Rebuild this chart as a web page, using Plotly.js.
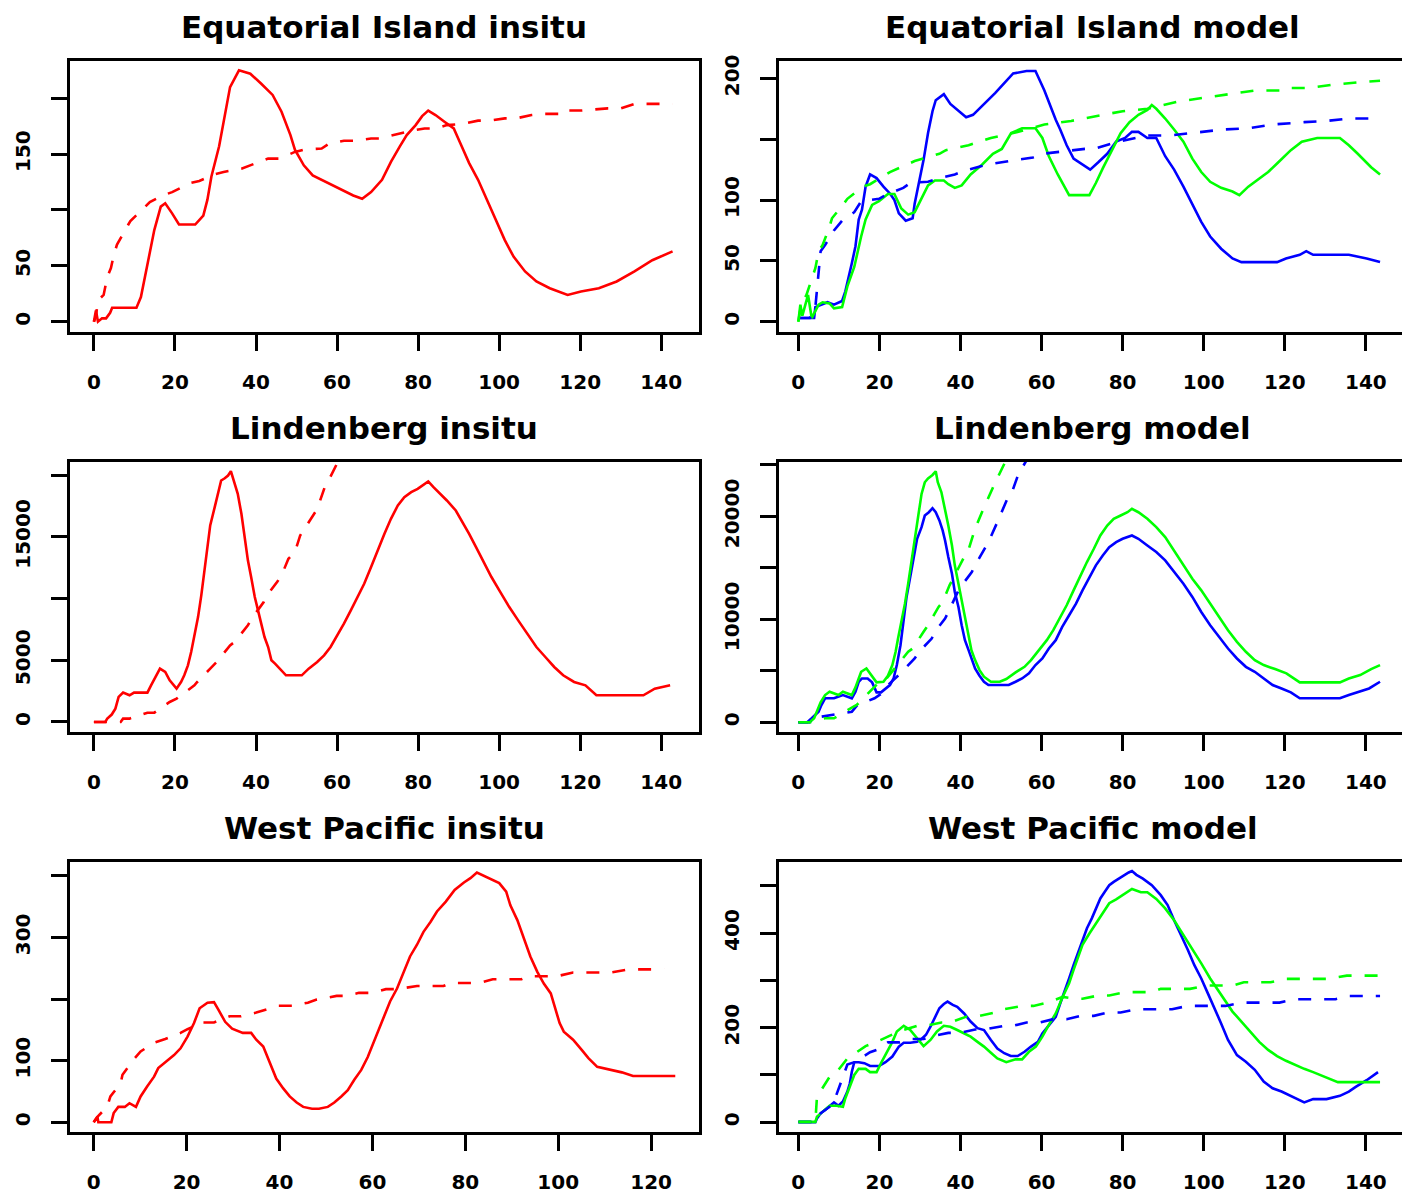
<!DOCTYPE html>
<html>
<head>
<meta charset="utf-8">
<script src="https://cdn.plot.ly/plotly-3.0.1.min.js"></script>
<style>
html,body{margin:0;padding:0;overflow:hidden;background:#fff;}
#plot{width:1410px;height:1197px;}
</style>
</head>
<body>
<div id="plot"></div>
<script>
// ---------------- DATA ----------------
const panelTitles = ["Equatorial Island insitu", "Equatorial Island model",
  "Lindenberg insitu", "Lindenberg model", "West Pacific insitu", "West Pacific model"];

const xTicksLong = [0, 20, 40, 60, 80, 100, 120, 140];
const xTicksShort = [0, 20, 40, 60, 80, 100, 120];

const yTicks1 = [0, 50, 100, 150, 200];          const yLabels1 = ["0", "50", "", "150", ""];
const yTicks2 = [0, 50, 100, 150, 200];          const yLabels2 = ["0", "50", "100", "", "200"];
const yTicks3 = [0, 5000, 10000, 15000, 20000];  const yLabels3 = ["0", "5000", "", "15000", ""];
const yTicks4 = [0, 5000, 10000, 15000, 20000, 25000]; const yLabels4 = ["0", "", "10000", "", "20000", ""];
const yTicks5 = [0, 100, 200, 300, 400];         const yLabels5 = ["0", "100", "", "300", ""];
const yTicks6 = [0, 100, 200, 300, 400, 500];    const yLabels6 = ["0", "", "200", "", "400", ""];

// Panel 1: Equatorial Island insitu
const eiInsituSolidX = [0,0.5,1,2,3,4,4.5,10.5,11.6,13.2,14.9,16.5,17.6,19.3,21,25,27,28,29,30.9,32,33.6,35.8,38.6,41.3,44.1,46.3,48.5,49.6,51.8,54,57.3,60.6,64,66.2,68.4,71.1,73.3,75.5,77.2,79.4,81,82.5,84.3,86.5,88.8,90.4,92.6,94.8,97,99.2,101.4,103.6,106.4,109.2,112.5,116.9,120.2,124.6,129,133.4,137.8,142.8];
const eiInsituSolidY = [0,10,0,3,3,8,12.5,12.5,22,51,82,103,106,97,87,87,95,109,130,157,180,210,225,222,213,203,188,167,154,140,131,125,119,113,110,116,127,143,157,167,176,184,189,185,179,173,160,142,127,109,91,73,58,45,36,30,24,27,30,36,45,55,63];
const eiInsituDashX = [0,0.5,1,2.4,3.3,4.2,5,5.7,8.5,9,12.1,13.8,17,19.3,23.7,26,29.8,32,36.4,38.6,43,45.8,49.6,51.8,56.2,57.9,61.7,65,68.4,70.6,75,78.3,81.6,84.3,87.1,91,94.8,97.6,101.4,104.2,108,110.3,114.7,115.2,120.2,126.8,130,133.4,142.8];
const eiInsituDashY = [0,5,19,24,40,48,61,69,87,90,101,107,113,116,124,126,132,134,137,140,146,146,152,154,155,159,162,162,164,164,168,171,173,173,176,177,180,180,182,182,185,186,186,189,189,191,191,195,195];

// Panel 2: Equatorial Island model
const eiModelBlueX = [0,3.9,4.2,7.2,8.8,10.8,11.6,12.5,13.2,14.1,14.9,15.7,16.6,17.7,19.3,21,22.7,23.7,24.8,26.5,28.2,28.7,29.8,30.9,32,33.1,33.9,35.9,37.5,39.2,41.4,43.1,44.7,46.4,48.6,50.8,53,56.3,58.5,60.7,62.4,63.5,64.6,66.2,67.9,70.1,72,74,76.2,78.4,80.6,82.3,83.9,86.1,88.3,90.5,92.7,95,97.2,99.4,101.6,104.3,107.1,109.3,118.1,120.3,123.7,125.3,127,135.8,140.2,143.5];
const eiModelBlueY = [3,3,12,16,14,17,25,37,48,62,84,92,111,121,118,111,105,100,89,83,85,97,114,133,155,173,182,187,179,174,168,170,175,181,188,196,204,206,206,190,175,166,158,145,134,129,125,131,138,148,151,156,156,151,151,136,125,111,97,82,70,60,52,49,49,52,55,58,55,55,52,49];
const eiModelGreenX = [0,0.5,1,2.4,3.3,5,6,7.7,8.8,10.8,12.1,13.8,15.5,16.6,18.2,19.9,22.1,23.7,25.4,27.1,28.7,30.4,32,33.7,35.9,37,38.6,40.3,42.5,45.3,48,50.2,52.5,55.2,58.5,60.2,61.8,64,65.7,66.8,71.8,73.4,75.1,77.3,79.5,81.7,83.9,86.1,87.2,88.3,90.5,92.7,95,97.2,99.4,101.6,104.3,107.1,108.8,111,113.7,115.9,118.1,121.5,124.2,128,133.6,135.8,138,141.3,143.5];
const eiModelGreenY = [0,14,5,22,3,14,16,15,11,12,29,45,70,84,96,99,105,105,93,88,90,101,112,116,116,113,110,112,121,129,138,142,155,159,159,151,136,121,111,104,104,114,126,141,155,164,170,174,178,175,167,158,148,134,123,115,110,107,104,111,118,123,130,141,148,151,151,145,138,127,121];
const eiModelGreenDashX = [0,0.7,2,3.3,4.2,5,6,7.7,8.3,11,12.1,16,17.7,22.6,28.7,34.8,36.4,42,47.5,53,60.7,67.3,75,80,86.1,91.6,93.8,99.9,106.5,112.6,119.2,120.3,125.8,132.5,139.1,143.5];
const eiModelGreenDashY = [0,14,22,36,44,58,63,78,85,96,101,111,113,123,132,138,141,145,151,155,162,165,170,173,175,179,181,184,187,190,190,192,192,195,197,198];
const eiModelBlueDashX = [0,2.8,4.2,5.5,6.6,8.8,10.8,13.8,15.5,19.9,22.1,25.9,27.6,32,34.8,38.6,40.9,46.4,51.9,57.9,60.2,66.2,70.7,72.9,78.9,83.3,86.1,91.6,98.8,104.9,111,116.8,124.8,130.3,135.8,143.5];
const eiModelBlueDashY = [3,3,12,58,63,75,83,90,99,101,105,110,114,115,118,121,124,129,132,135,138,140,142,142,148,151,153,153,156,158,159,162,164,165,167,167];

// Panel 3: Lindenberg insitu
const linInsituSolidX = [0,2.8,3.3,4.4,5.3,6.1,7.2,8.8,9.9,13.2,14.1,14.9,16.3,17.6,18.7,20.4,21.5,22.3,23.2,24,24.8,25.7,26.5,27.2,27.9,28.7,29.8,30.7,31.4,32.3,33.1,33.8,34.7,35.5,36.4,37.3,38,38.8,39.7,40.5,41.3,42.1,43,43.8,44.7,45.8,47.4,51.3,53,55.1,56.8,58.4,60.1,61.7,63.4,65.1,66.7,68.4,70,71.7,73.3,75,76.6,78.3,79.9,81,82.5,83.8,85.5,87.1,89.3,91,92.6,94.3,95.9,98.1,100.3,102.5,104.7,106.9,109.2,111.4,113.6,115.8,118.5,121.3,124,135.6,138.4,142.2];
const linInsituSolidY = [0,0,270,600,1080,2030,2380,2160,2380,2380,2970,3510,4320,4050,3375,2700,3240,3780,4590,5670,7020,8500,10260,12150,14175,15930,17400,18630,19575,19760,19980,20330,19440,18500,16875,14700,13100,11750,10125,9045,7830,6885,6075,4995,4725,4320,3780,3780,4320,4860,5400,6075,7020,7965,9045,10125,11200,12555,13900,15255,16470,17550,18225,18630,18900,19170,19500,19035,18500,17955,17145,16200,15255,14175,13100,11750,10530,9315,8235,7155,6075,5265,4455,3780,3240,2970,2160,2160,2700,2970];
const linInsituDashX = [0,6.6,7.2,8.8,13.2,14.9,18.7,20.4,24.8,25.5,28.7,30.3,33.6,34.7,38,38.9,41.9,42.4,45.2,46.3,48,49.6,50.9,52,54.6,55.4,57.1,57.9,60.1,61];
const linInsituDashY = [0,0,270,270,750,750,1620,1890,2970,3240,4320,4860,6210,6480,7830,8370,9720,10125,11340,11880,13230,13770,15120,15660,17000,17550,19170,19575,21060,21600];

// Panel 4: Lindenberg model
const linModelGreenX = [0,2.8,3.9,5.5,6.6,7.7,9.9,11,13.2,14.1,14.9,15.5,16.8,18,19.3,21,22.1,23.2,24,24.6,25.4,26.3,27.1,27.9,28.7,29.6,30.4,31.2,32,33.1,33.9,34.4,35.3,36.2,37,37.9,38.6,39.5,40.3,41.1,42,42.7,43.6,44.7,45.8,47.5,49.7,51.3,53.6,55.8,57.4,59.6,61.3,62.9,64.6,66.2,67.9,69.6,71.2,72.9,74.5,76.2,77.8,79.5,81.2,82.3,83.9,86.1,88.3,90.5,92.7,95,97.2,99.4,101.6,103.8,106,108.2,110.4,112.6,114.8,117.6,120.4,123.7,133.6,135.8,138.6,141.3,143.5];
const linModelGreenY = [0,0,390,1940,2650,2970,2650,2970,2650,3390,4260,4910,5230,4590,3880,3940,4520,5560,6850,8140,9590,11530,13470,15730,18000,20090,22190,23320,23700,24030,24390,23320,22350,20740,19120,17180,15250,13470,11850,9920,8300,7010,6040,5070,4430,3940,3940,4200,4850,5390,6040,7170,7980,8950,10240,11370,12820,14280,15570,16860,18150,19120,19770,20090,20410,20740,20410,19770,18960,18000,16700,15250,13950,12820,11530,10240,8950,7820,6850,6040,5560,5170,4750,3880,3880,4260,4590,5170,5560];
const linModelBlueX = [0,2.2,3.3,5,5.7,6.6,7.7,8.8,11,13.2,14.1,14.9,15.7,17.1,18.2,19.3,20.4,21.5,22.6,23.5,24.3,25.2,25.9,26.7,27.6,28.5,29.3,30.4,31.2,32.2,33.1,33.9,34.8,35.6,36.2,37,37.9,38.6,39.5,40.3,41.1,42,42.8,43.6,44.7,45.8,46.9,51.9,53.6,55.2,56.9,58.5,60.2,61.8,63.5,65.1,66.8,68.5,70.1,71.8,73.4,75.1,76.7,78.4,80,82.3,83.9,86.1,88.3,90.5,92.7,95,97.2,99.4,101.6,103.8,106,108.2,110.4,112.6,114.8,117,119.2,121.5,123.7,133.6,135.8,138.6,140.8,143.5];
const linModelBlueY = [0,0,390,1030,1680,2330,2330,2330,2650,2330,2970,3940,4260,4260,3880,2910,2910,3290,3620,4260,5560,7490,9750,12180,14120,16210,17830,18960,20090,20410,20800,20410,19610,18640,17670,16050,14440,12660,11210,9430,7980,7010,6040,5230,4520,3940,3620,3620,3940,4260,4750,5560,6200,7170,7980,9270,10400,11530,12820,14120,15250,16210,17020,17510,17830,18150,17830,17180,16540,15730,14600,13470,12180,10720,9430,8300,7170,6200,5390,4910,4260,3620,3290,2910,2330,2330,2650,2970,3290,3940];
const linModelGreenDashX = [0,2.8,6.6,8.8,13.2,14.4,19.9,21,27.1,28.2,30.9,32,34.6,35.6,37.3,38.1,40.9,41.6,43.1,43.6,45.3,46,48.4,51,52];
const linModelGreenDashY = [0,0,390,390,1420,1680,3880,3880,6850,7170,8790,9430,11210,11690,13310,13950,16050,16280,18150,18800,20410,21060,23160,25260,25800];
const linModelBlueDashX = [0,2.8,3.3,13.2,14.6,18.8,21.2,22.1,24.8,28.7,29.8,32.9,33.7,36.2,37,39.7,42.8,43.6,46.4,46.9,49.1,51.9,52.7,54.3,55.2,56.5];
const linModelBlueDashY = [0,0,390,1030,1680,2330,2970,3620,4590,6200,6850,8140,8790,10080,10720,12980,14600,15250,17180,17510,19450,22030,22350,24130,24710,25600];

// Panel 5: West Pacific insitu
const wpInsituSolidX = [0,0.8,1,3.8,4.3,5.3,6.7,7.7,9.1,10.1,11.5,13,13.9,15.4,17.3,18.7,20.2,21.6,22.8,24.5,25.9,26.9,28.3,29.8,32.1,33.9,35,36.5,37.4,38.4,39.3,40.8,42.2,43.7,45.1,47,48.5,50.4,51.8,53.3,54.7,56.1,57.6,59,60.5,61.9,62.9,63.8,65.3,66.2,67.2,68.1,69.6,71,72.5,73.9,75.8,77.7,79.7,81.1,82.5,84,85.4,87.3,88.8,89.7,91.2,92.6,94,95.5,96.9,98.4,99.3,100.3,101.2,103.2,105.1,106.5,108.4,110.8,113.7,116.1,125.2];
const wpInsituSolidY = [0,9,0,0,15,25,25,31,25,42,58,74,88,97,109,120,139,161,185,194,195,182,163,152,145,145,134,123,106,90,71,55,42,32,25,22,22,25,32,42,52,69,85,106,134,161,179,196,217,234,252,269,288,309,325,342,358,377,389,396,405,400,394,388,374,352,328,298,269,244,225,209,185,161,147,134,117,104,90,86,81,75,75];
const wpInsituDashX = [0,0.8,2.9,3.6,5.8,6.2,8.6,10.1,13,15.4,18.7,20.2,23.5,25.9,29.3,31.7,35,37.4,39.8,42.7,46.1,48,52.3,54.2,57.1,60,62.9,65.3,69.6,75.3,76.8,83,85.9,92.1,93.6,99.8,103.2,111.3,115.2,122.8];
const wpInsituDashY = [0,9,25,42,63,77,102,115,129,135,145,151,162,162,172,172,178,183,189,189,194,199,205,205,210,210,216,216,221,221,226,226,232,232,237,237,243,243,248,248];

// Panel 6: West Pacific model
const wpModelBlueX = [0,4.2,4.6,5.5,6.6,7.7,8.8,9.9,11,12.1,12.7,13.2,13.8,14.9,16.3,17.7,19.9,21.5,23.2,24.8,26,27.6,29.3,30.4,31.5,32.6,33.7,34.8,35.9,36.8,38.1,39.2,40.9,42.5,44.2,45.8,47.5,49.1,50.8,52.4,54.1,55.8,57.4,59.1,60.2,61.8,63.5,64.6,65.7,66.8,67.9,69,70.1,71.2,72.4,73.4,74.5,75.6,76.7,77.8,79,80.6,81.5,82.3,83.4,85,87.2,89.4,91.1,92.7,94.4,96.1,97.7,99.4,101,102.7,104.3,106,108.2,110.4,112.6,114.8,117,119.2,121.5,124.8,127,130.3,133.6,135.8,137.5,140.2,143];
const wpModelBlueY = [0,0,8,19,26,35,42,35,44,65,82,107,127,127,125,119,119,127,139,160,168,168,170,176,185,202,220,241,250,255,248,244,230,213,199,195,174,156,146,140,140,149,160,170,188,206,223,251,280,304,332,357,382,410,431,452,473,487,501,508,515,523,528,531,523,515,501,480,459,427,396,364,332,304,273,241,209,174,142,128,111,86,72,65,56,42,49,49,56,65,75,89,106];
const wpModelGreenX = [0,4.2,4.6,6.1,7.7,9.4,11,11.6,12.7,13.8,14.9,16.6,17.7,19.3,20.4,22.1,23.2,24.3,26,27.6,29.3,30.9,32.6,34.2,35.9,37.5,39.2,40.9,42.5,44.2,45.8,47.5,49.1,51.3,53.6,55.2,56.9,58.6,60.2,61.8,63.5,65.2,66.8,67.9,69,70.1,71.8,73.4,75.1,76.7,78.4,80,82.3,84.5,86.1,88.3,90.5,92.7,95,97.2,99.4,101.6,103.8,105.5,107.1,109.3,111.5,113.7,115.9,118.1,120.3,122.6,124.8,127,129.2,131.4,133.1,143.5];
const wpModelGreenY = [1,1,12,23,35,35,33,51,75,100,113,113,106,106,125,153,170,192,204,195,177,161,174,192,204,202,195,188,181,170,160,147,135,127,133,133,149,160,181,206,230,265,294,322,350,375,399,420,442,463,471,480,493,486,486,472,452,427,396,368,336,304,276,255,234,213,192,170,153,140,130,121,113,106,99,92,85,85];
const wpModelGreenDashX = [0,4.2,4.6,7.7,8.8,12.1,13.2,16.6,18.8,23.2,24.8,29.3,31.5,35.3,37.5,42,44.7,48.6,50.8,55.2,58,61.8,65.2,68.5,70.1,74,76.7,80.6,83.4,87.2,89.4,94,96.6,100.5,103.2,107.1,109.9,113.2,116.5,120.3,123.2,127,130.3,135.3,139.7,143.5];
const wpModelGreenDashY = [1,1,54,96,99,135,141,161,168,185,192,204,204,211,211,225,225,232,239,246,246,254,265,261,261,268,268,275,275,275,282,282,282,289,289,289,296,296,296,303,303,303,303,310,310,310];
const wpModelBlueDashX = [0,4.2,5.5,6.6,7.7,8.8,12.1,13.8,17.7,19.9,22.1,25,28.2,30.9,33.1,37,39.7,43.6,45.8,50.8,53,56.3,59.6,62.9,66.2,69.6,72.9,76.2,79.5,83.4,86.1,89.4,92.2,96.1,98.8,102.7,105.4,109.3,112.6,115.9,118.7,122.6,125.9,129.2,132.5,135.8,143.5];
const wpModelBlueDashY = [1,1,19,26,33,44,122,127,148,155,169,169,176,176,182,189,189,196,196,204,204,211,211,218,218,225,225,232,232,239,239,239,239,246,246,246,246,253,253,253,253,260,260,260,260,267,267];

// ---------------- STYLE / LAYOUT ----------------
const W = 1410, H = 1197;
const RED = "#ff0000", BLUE = "#0000ff", GREEN = "#00ff00";
const LW = 2.6;
const DASH = "13px,13px";
const FONT = "DejaVu Sans, Liberation Sans, sans-serif";

const colPx = [[70, 698.5], [778.7, 1407.2]];
const rowPx = [[61.3, 331.7], [461.7, 732.3], [861.7, 1132.3]];
const xRanges = [[-5.9, 149.2], [-4.84, 150.2], [-5.9, 149.2], [-4.84, 150.2], [-5.1, 130.2], [-4.84, 150.2]];
const yRanges = [[-8.95, 233.1], [-8.2, 214], [-840, 21100], [-972, 25320], [-16.2, 422.7], [-21.1, 550.7]];
const xTickSets = [xTicksLong, xTicksLong, xTicksLong, xTicksLong, xTicksShort, xTicksLong];
const yTickSets = [yTicks1, yTicks2, yTicks3, yTicks4, yTicks5, yTicks6];
const yLabelSets = [yLabels1, yLabels2, yLabels3, yLabels4, yLabels5, yLabels6];

const series = [
  [0, eiInsituSolidX, eiInsituSolidY, RED, "solid"],
  [0, eiInsituDashX, eiInsituDashY, RED, DASH],
  [1, eiModelBlueX, eiModelBlueY, BLUE, "solid"],
  [1, eiModelGreenX, eiModelGreenY, GREEN, "solid"],
  [1, eiModelBlueDashX, eiModelBlueDashY, BLUE, DASH],
  [1, eiModelGreenDashX, eiModelGreenDashY, GREEN, DASH],
  [2, linInsituSolidX, linInsituSolidY, RED, "solid"],
  [2, linInsituDashX, linInsituDashY, RED, DASH],
  [3, linModelBlueX, linModelBlueY, BLUE, "solid"],
  [3, linModelGreenX, linModelGreenY, GREEN, "solid"],
  [3, linModelBlueDashX, linModelBlueDashY, BLUE, DASH],
  [3, linModelGreenDashX, linModelGreenDashY, GREEN, DASH],
  [4, wpInsituSolidX, wpInsituSolidY, RED, "solid"],
  [4, wpInsituDashX, wpInsituDashY, RED, DASH],
  [5, wpModelBlueX, wpModelBlueY, BLUE, "solid"],
  [5, wpModelGreenX, wpModelGreenY, GREEN, "solid"],
  [5, wpModelBlueDashX, wpModelBlueDashY, BLUE, DASH],
  [5, wpModelGreenDashX, wpModelGreenDashY, GREEN, DASH]
];

const traces = series.map(([p, x, y, c, d]) => ({
  type: "scatter", mode: "lines", x: x, y: y,
  xaxis: p === 0 ? "x" : "x" + (p + 1),
  yaxis: p === 0 ? "y" : "y" + (p + 1),
  line: {color: c, width: LW, dash: d},
  hoverinfo: "skip"
}));

const layout = {
  width: W, height: H,
  margin: {l: 0, r: 0, t: 0, b: 0, pad: 0},
  paper_bgcolor: "#ffffff", plot_bgcolor: "#ffffff",
  showlegend: false,
  font: {family: FONT, color: "#000"},
  annotations: []
};

for (let p = 0; p < 6; p++) {
  const col = p % 2, row = Math.floor(p / 2);
  const xs = p === 0 ? "" : String(p + 1);
  const common = {
    showline: true, linewidth: 3, linecolor: "#000", mirror: true,
    ticks: "outside", ticklen: 16, tickwidth: 3, tickcolor: "#000",
    showgrid: false, zeroline: false, fixedrange: true,
    tickfont: {family: FONT, size: 20, color: "#000", weight: "bold"}
  };
  layout["xaxis" + xs] = Object.assign({}, common, {
    domain: [colPx[col][0] / W, colPx[col][1] / W],
    range: xRanges[p], anchor: "y" + xs,
    tickmode: "array", tickvals: xTickSets[p], ticktext: xTickSets[p].map(String),
    ticklabelstandoff: 14
  });
  layout["yaxis" + xs] = Object.assign({}, common, {
    domain: [1 - rowPx[row][1] / H, 1 - rowPx[row][0] / H],
    range: yRanges[p], anchor: "x" + xs,
    tickmode: "array", tickvals: yTickSets[p], ticktext: yLabelSets[p],
    tickangle: -90, ticklabelstandoff: 13
  });
  layout.annotations.push({
    text: panelTitles[p], showarrow: false,
    xref: "paper", yref: "paper",
    x: (colPx[col][0] + colPx[col][1]) / 2 / W,
    y: 1 - (rowPx[row][0] - 34) / H,
    xanchor: "center", yanchor: "middle",
    font: {family: FONT, size: 31, color: "#000", weight: "bold"}
  });
}

Plotly.newPlot("plot", traces, layout, {staticPlot: true, displayModeBar: false});
</script>
</body>
</html>
